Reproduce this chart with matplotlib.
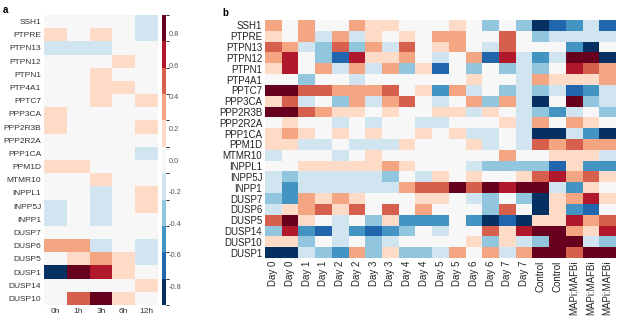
import numpy as np
import matplotlib
matplotlib.use("Agg")
import matplotlib.pyplot as plt
from matplotlib.colors import ListedColormap, BoundaryNorm

plt.rcParams['font.family'] = ['Liberation Sans', 'DejaVu Sans']

# brewer RdBu, 11 classes, blue -> red
colors11 = ['#053061', '#2166ac', '#4393c3', '#92c5de', '#d1e5f0', '#f7f7f7',
            '#fddbc7', '#f4a582', '#d6604d', '#b2182b', '#67001f']
cmap = ListedColormap(colors11)

# ---- panel a data ----
genes_a = ['SSH1', 'PTPRE', 'PTPN13', 'PTPN12', 'PTPN1', 'PTP4A1', 'PPTC7', 'PPP3CA',
           'PPP2R3B', 'PPP2R2A', 'PPP1CA', 'PPM1D', 'MTMR10', 'INPPL1', 'INPP5J', 'INPP1',
           'DUSP7', 'DUSP6', 'DUSP5', 'DUSP1', 'DUSP14', 'DUSP10']
times_a = ['0h', '1h', '3h', '6h', '12h']
vals_a = [
    [0.0, 0.0, 0.0, 0.0, -0.15],
    [0.15, 0.0, 0.15, 0.0, -0.15],
    [-0.15, -0.15, -0.15, 0.0, 0.0],
    [0.0, 0.0, 0.0, 0.15, 0.0],
    [0.0, 0.0, 0.15, 0.0, 0.0],
    [0.0, 0.0, 0.15, 0.15, 0.0],
    [0.0, 0.0, 0.15, 0.0, 0.15],
    [0.15, 0.0, 0.0, 0.0, 0.0],
    [0.15, 0.0, 0.0, 0.0, 0.15],
    [0.0, 0.0, 0.0, 0.0, 0.0],
    [0.0, 0.0, 0.0, 0.0, -0.15],
    [0.15, 0.15, 0.0, 0.0, 0.0],
    [0.0, 0.0, 0.15, 0.0, 0.0],
    [0.0, 0.0, -0.15, 0.0, 0.15],
    [-0.15, 0.0, -0.15, 0.0, 0.15],
    [-0.15, 0.0, -0.15, 0.0, 0.0],
    [0.0, 0.0, 0.0, 0.0, 0.0],
    [0.32, 0.32, -0.15, 0.0, -0.15],
    [0.0, 0.15, 0.32, 0.15, -0.15],
    [-0.85, 0.85, 0.66, 0.15, 0.0],
    [0.0, 0.0, 0.0, 0.0, 0.15],
    [0.0, 0.5, 0.85, 0.15, 0.0],
]

# ---- panel b data (colour level, -5 .. 5) ----
genes_b = ['SSH1', 'PTPRE', 'PTPN13', 'PTPN12', 'PTPN1', 'PTP4A1', 'PPTC7', 'PPP3CA',
           'PPP2R3B', 'PPP2R2A', 'PPP1CA', 'PPM1D', 'MTMR10', 'INPPL1', 'INPP5J', 'INPP1',
           'DUSP7', 'DUSP6', 'DUSP5', 'DUSP14', 'DUSP10', 'DUSP1']
samples_b = ['Day 0', 'Day 0', 'Day 1', 'Day 1', 'Day 2', 'Day 2', 'Day 3', 'Day 3',
             'Day 4', 'Day 4', 'Day 5', 'Day 5', 'Day 6', 'Day 6', 'Day 7', 'Day 7',
             'Control', 'Control', 'MAPi:MAFBi', 'MAPi:MAFBi', 'MAPi:MAFBi']
vals_b = [
    [2, 0, 2, 0, 0, 2, 1, 1, 0, 0, 0, 1, 0, -2, 0, -2, -5, -4, -3, -1, -4],
    [1, 0, 2, -1, 2, -1, 1, 0, 1, 0, 2, 2, 0, 0, 3, 0, -2, -1, -1, -1, -1],
    [3, 2, -1, -2, 3, -2, 2, -1, 3, 0, 1, 2, 0, -1, 3, 0, 0, 0, -3, -5, 0],
    [2, 4, 0, -2, -4, 4, 1, 1, 2, 0, -1, 0, 2, -4, 4, -1, -3, -1, 5, 5, -5],
    [1, 4, 0, 2, -1, 2, -1, 2, -2, 1, -4, 0, -2, 0, -2, -1, -2, 0, 4, 3, 2],
    [0, 0, -2, 0, 0, -1, 0, 0, 0, 0, 0, 0, 1, 0, 0, -1, 2, 1, 1, 1, 2],
    [5, 5, 3, 3, 2, 2, 2, 3, 0, 1, -3, 2, -1, 0, -2, -1, -2, -1, -4, -3, -1],
    [1, 3, -1, 0, -2, 2, -1, 2, 3, 0, -1, 0, 2, -2, 2, -1, -5, 0, 5, -2, -1],
    [5, 5, 3, 2, 1, 1, 0, 1, 0, 0, 1, 1, -1, 1, 0, -1, -2, -3, -1, 0, -2],
    [0, 1, 0, 0, -1, 0, -1, 0, 0, -1, -1, 0, 0, 0, 1, -1, 2, 0, 2, 1, 0],
    [1, 2, 1, 0, 1, 0, 1, 0, 0, 1, 0, 1, -1, -1, 0, -1, -5, -5, -1, -3, -5],
    [1, 1, -1, -1, 0, -1, -1, -1, 1, 0, 0, 0, 1, -1, 0, -1, 3, 2, 3, 2, 2],
    [-1, 0, 0, 0, -1, 0, 1, 0, 0, 0, 0, 0, 0, 0, 2, 0, 0, 1, 1, 1, -1],
    [0, 0, 1, 1, 1, 1, 1, 2, 1, 0, 0, 0, -1, -2, -2, -2, -2, -4, 1, -3, -3],
    [-1, -2, -1, -1, -1, -1, -1, -2, 0, -1, 1, 0, 1, 0, 0, 1, 3, 4, 2, 3, 1],
    [-1, -3, -1, -1, -1, -1, -1, -1, 2, 3, 3, 5, 3, 5, 4, 5, 5, -1, -3, 1, 0],
    [-2, -3, 2, 1, 2, 1, 0, 0, 0, 1, 1, 0, -1, -2, 0, -2, -5, 1, 2, 4, 1],
    [-1, 1, 2, 3, 1, 3, 0, 3, 0, 2, 0, 0, 0, -2, 3, 0, -5, 1, -3, -4, 0],
    [3, 5, 1, 0, -1, 0, -2, 1, -3, -3, -3, 0, -3, -5, -4, -5, 1, 1, 4, 2, 3],
    [-2, 4, -3, -4, -1, -3, -4, -3, -2, 0, -1, 0, 0, 3, 1, 4, 5, 5, 2, 1, 4],
    [1, 1, -2, 0, -1, 0, -2, -1, 0, 0, 0, 0, 1, -2, 1, -1, -2, 5, 5, -1, -2],
    [-5, -5, -1, -2, -3, 2, -2, 1, -2, -2, -1, 2, 0, 2, -1, 2, 5, 5, 3, 5, 5],
]

W, H = 617, 318
fig = plt.figure(figsize=(W / 100, H / 100), dpi=100)


def px_axes(x0, y0, x1, y1):
    return fig.add_axes([x0 / W, 1 - y1 / H, (x1 - x0) / W, (y1 - y0) / H])


# panel a
vmax_a = 0.92
norm_a = BoundaryNorm(np.linspace(-vmax_a, vmax_a, 12), cmap.N)
ax_a = px_axes(44, 15, 158, 305)
A = np.array(vals_a)
mesh = ax_a.pcolormesh(A, cmap=cmap, norm=norm_a)
ax_a.set_xlim(0, A.shape[1])
ax_a.set_ylim(A.shape[0], 0)
ax_a.set_xticks(np.arange(A.shape[1]) + 0.5)
ax_a.set_xticklabels(times_a, fontsize=6, color='#333333')
ax_a.set_yticks(np.arange(A.shape[0]) + 0.5)
ax_a.set_yticklabels(genes_a, fontsize=6, color='#333333')
ax_a.tick_params(length=0, pad=2)
for s in ax_a.spines.values():
    s.set_visible(False)

cax = px_axes(162, 15, 166, 305)
cb = fig.colorbar(mesh, cax=cax, ticks=np.arange(-0.8, 0.81, 0.2))
cb.outline.set_visible(False)
cb.ax.set_yticklabels(['%.1f' % t if abs(t) > 1e-9 else '0.0' for t in np.arange(-0.8, 0.81, 0.2)])
cb.ax.tick_params(length=0, labelsize=5.3, colors='#555555', pad=2)

# panel b
norm_b = BoundaryNorm(np.arange(-5.5, 6.0, 1.0), cmap.N)
ax_b = px_axes(265, 20, 616, 258)
B = np.array(vals_b)
ax_b.pcolormesh(B, cmap=cmap, norm=norm_b)
ax_b.set_xlim(0, B.shape[1])
ax_b.set_ylim(B.shape[0], 0)
ax_b.set_xticks(np.arange(B.shape[1]) + 0.5)
ax_b.set_xticklabels(samples_b, rotation=90, fontsize=7, color='#222222')
ax_b.set_yticks(np.arange(B.shape[0]) + 0.5)
ax_b.set_yticklabels(genes_b, fontsize=7, color='#222222')
ax_b.tick_params(length=0, pad=2)
for s in ax_b.spines.values():
    s.set_visible(False)

fig.text(3 / W, 1 - 10 / H, 'a', fontsize=7, fontweight='bold', va='center', ha='left')
fig.text(222 / W, 1 - 13 / H, 'b', fontsize=7, fontweight='bold', va='center', ha='left')

fig.savefig('out.png', dpi=100)
